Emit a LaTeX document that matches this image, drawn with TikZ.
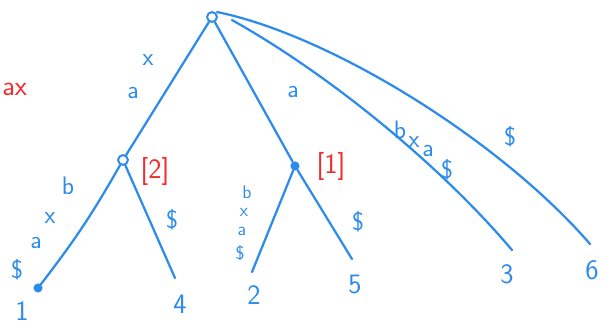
\documentclass[tikz,border=0pt]{standalone}
\usetikzlibrary{calc}

\definecolor{treeBlue}{RGB}{45, 140, 235}
\definecolor{markRed}{RGB}{240, 45, 45}

\begin{document}
\begin{tikzpicture}[x=0.025cm, y=-0.025cm, line cap=round, line join=round,
  edge/.style={draw=treeBlue, line width=1.6pt},
  branch/.style={circle, draw=treeBlue, line width=1.4pt, inner sep=0pt, minimum size=7pt},
  leafdot/.style={circle, fill=treeBlue, inner sep=0pt, minimum size=6.5pt},
  lbl/.style={text=treeBlue, inner sep=0pt, font=\sffamily\fontsize{18}{18}\selectfont},
  small/.style={lbl, font=\sffamily\fontsize{13}{13}\selectfont},
  num/.style={text=treeBlue, inner sep=0pt, font=\sffamily\fontsize{20}{20}\selectfont},
  redmark/.style={text=markRed, inner sep=0pt, font=\sffamily\fontsize{20}{20}\selectfont}]
  \useasboundingbox (0,0) rectangle (601,324);
  \clip (0,0) rectangle (601,324);

  % internal nodes and leaves
  \node[branch] (root) at (212,17) {};
  \node[branch] (v2) at (123,160) {};
  \node[leafdot] (v1) at (295,166) {};
  \node[leafdot] (l1) at (38,288) {};
  \coordinate (l4) at (175,278);
  \coordinate (l2) at (252,272);
  \coordinate (l5) at (352,259);
  \coordinate (l3) at (512,250);
  \coordinate (l6) at (590,244);

  % edges
  \draw[edge] (root) -- (v2);
  \draw[edge] (v2) to[bend left=4] (l1);
  \draw[edge] (v2) -- (l4);
  \draw[edge] (root) -- (v1);
  \draw[edge] (v1) -- (l2);
  \draw[edge] (v1) -- (l5);
  \draw[edge] ($(root)+(20,3)$) .. controls (330,75) and (440,165) .. (l3);
  \draw[edge] ($(root)+(5,-5)$) .. controls (330,35) and (500,140) .. (l6);

  % leaf numbers
  \node[num] (n1) at (22,311) {1};
  \node[num] (n4) at (180,304) {4};
  \node[num] (n2) at (254,295) {2};
  \node[num] (n5) at (355,284) {5};
  \node[num] (n3) at (507,274) {3};
  \node[num] (n6) at (592,270) {6};

  % edge labels
  \node[lbl] (ax1) at (148,60) {x};
  \node[lbl] (ax2) at (133,93) {a};
  \node[lbl] (am) at (293,92) {a};
  \node[lbl] (r1) at (400,130) {b};
  \node[lbl] (r2) at (414,142) {x};
  \node[lbl] (r3) at (428,151) {a};
  \node[lbl] (r4) at (447,170) {\$};
  \node[lbl] (s6) at (510,137) {\$};
  \node[lbl] (p1) at (68,186) {b};
  \node[lbl] (p2) at (50,218) {x};
  \node[lbl] (p3) at (36,243) {a};
  \node[lbl] (p4) at (17,270) {\$};
  \node[lbl] (s4) at (172,220) {\$};
  \node[small] (q1) at (247,192) {b};
  \node[small] (q2) at (244,212) {x};
  \node[small] (q3) at (242,231) {a};
  \node[small] (q4) at (240,253) {\$};
  \node[lbl] (s5) at (358,222) {\$};

  % red annotations
  \node[redmark] (m2) at (155,171) {[2]};
  \node[redmark] (m1) at (331,166) {[1]};
  \node[redmark, anchor=west] (mx) at (2,89) {ax};
\end{tikzpicture}
\end{document}
